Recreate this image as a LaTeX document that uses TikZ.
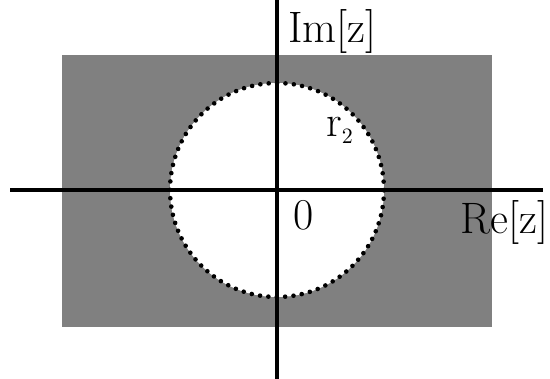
\documentclass[tikz,border=0pt]{standalone}
\usepackage{tikz}
\usetikzlibrary{positioning}
\usepackage{xcolor}

\definecolor{roigray}{RGB}{128,128,128}

\begin{document}
\begin{tikzpicture}[
    x=0.5pt, y=-0.5pt,
    axis/.style={
        line width=2.2pt
    },
    lbl/.style={
        inner sep=0pt,
        font=\fontsize{22}{26}\selectfont
    },
    roc/.style={
        circle,
        fill=white,
        draw=black,
        line width=2.3pt,
        line cap=round,
        dash pattern=on 0pt off 4.2pt,
        minimum size=107pt,
        inner sep=0pt
    }
]
\useasboundingbox (0,0) rectangle (550,379);

% region of convergence
\fill[roigray] (62,55) rectangle (492,327);
\node[roc] (circ) at (277,190) {};

% axes
\coordinate (xl) at (10,190);
\coordinate (xr) at (543,190);
\coordinate (yt) at (277,0);
\coordinate (yb) at (277,379);
\draw[axis] (xl) -- (xr);
\draw[axis] (yt) -- (yb);

% labels
\node[lbl, anchor=base west] (im) at (288,43) {Im[z]};
\node[lbl, anchor=base west] (re) at (460,233) {Re[z]};
\node[lbl, anchor=base west] (rad) at (326,137) {r$_{\scriptscriptstyle 2}$};
\node[lbl, anchor=base west] (org) at (293,229) {0};

\end{tikzpicture}
\end{document}
